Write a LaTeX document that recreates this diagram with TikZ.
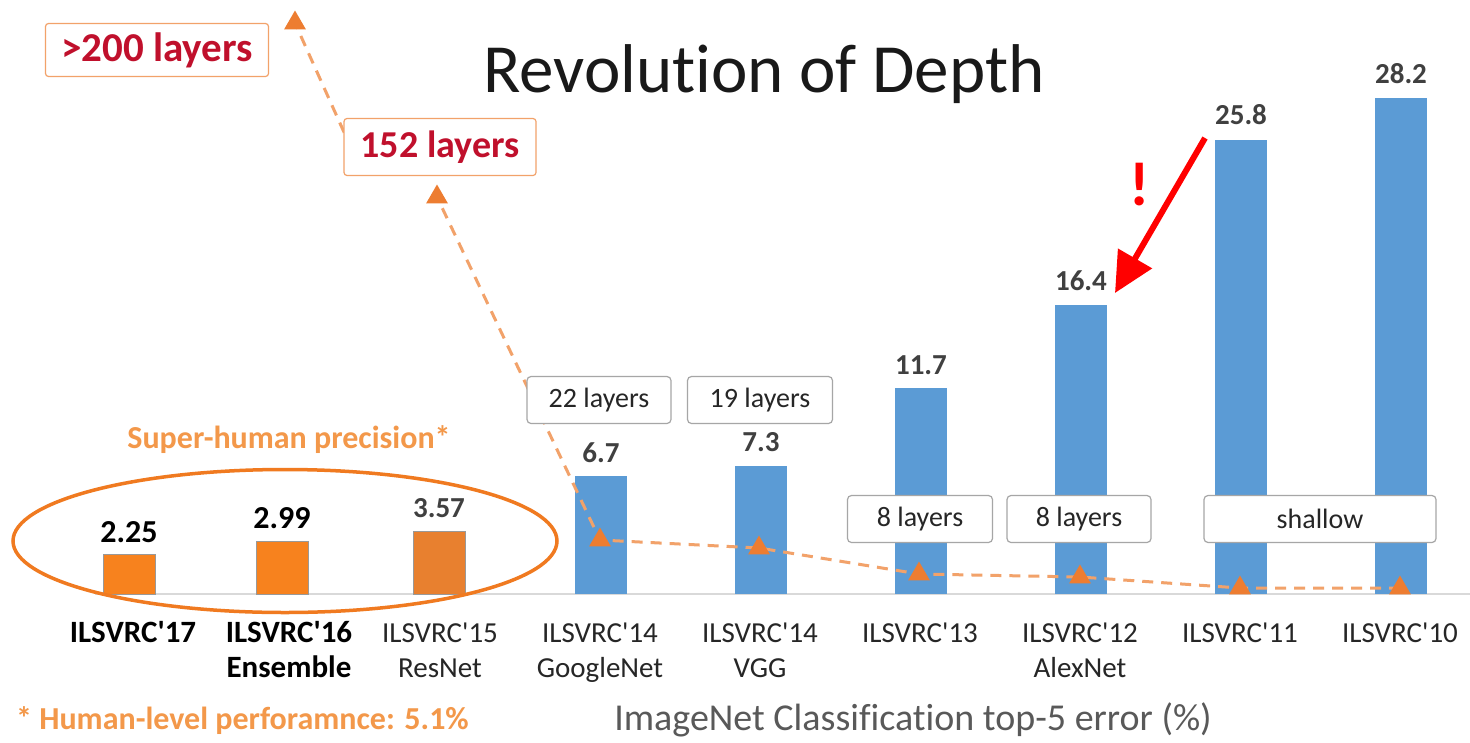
\documentclass[tikz,border=0pt]{standalone}
\usepackage{fontspec}
\setmainfont{Carlito}[Ligatures={NoCommon}]
\usetikzlibrary{shapes.geometric,arrows.meta}

\definecolor{barblue}{HTML}{5B9BD5}
\definecolor{barorange}{HTML}{F7821E}
\definecolor{barorange2}{HTML}{E8802F}
\definecolor{markorange}{HTML}{ED7D31}
\definecolor{dashorange}{HTML}{F2A26A}
\definecolor{ringorange}{HTML}{F07A20}
\definecolor{noteorange}{HTML}{F3984A}
\definecolor{deepred}{HTML}{C0102C}
\definecolor{valgray}{HTML}{404040}
\definecolor{txtgray}{HTML}{262626}
\definecolor{subgray}{HTML}{595959}
\definecolor{boxgray}{HTML}{A6A6A6}
\definecolor{axisgray}{HTML}{D9D9D9}

% font size and line spacing in one go
\newcommand{\fsz}[2]{\fontsize{#1}{#2}\selectfont}
% straight apostrophe for the year labels
\newcommand{\ap}{\textquotesingle}

\begin{document}
\begin{tikzpicture}[x=1pt,y=-1pt,
  bluebar/.style={fill=barblue,inner sep=0,outer sep=0,minimum width=52pt,anchor=south},
  orangebar/.style={fill=barorange,draw=gray!80,line width=1pt,inner sep=0,outer sep=0,minimum width=52pt,anchor=south},
  val/.style={font=\fsz{29}{35}\bfseries,text=valgray,anchor=base,inner sep=0},
  valblack/.style={font=\fsz{32}{38}\bfseries,text=black,anchor=base,inner sep=0},
  axl/.style={font=\fsz{29}{35},text=txtgray,align=center,anchor=base,inner sep=0},
  axlbold/.style={font=\fsz{31}{35}\bfseries,text=black,align=center,anchor=base,inner sep=0},
  lbox/.style={draw=boxgray,line width=1.2pt,fill=white,rounded corners=4pt,
    minimum height=47pt,inner sep=0,font=\fsz{28}{34},text=txtgray},
  redbox/.style={draw=dashorange,line width=1.2pt,fill=white,rounded corners=3pt,
    inner sep=0,text=deepred},
  trimark/.style={regular polygon,regular polygon sides=3,fill=markorange,
    minimum size=25pt,inner sep=0},
  trend/.style={draw=dashorange,line width=3pt,dash pattern=on 11pt off 8pt},
]
\useasboundingbox (0,0) rectangle (1470,742);
\fill[white] (0,0) rectangle (1470,742);

% title
\node[font=\fsz{69}{80},text=black!90,anchor=base,inner sep=0] (title) at (764,92) {Revolution of Depth};

% baseline of the chart
\draw[axisgray,line width=2pt] (95,594) -- (1470,594);

% bars
\node[orangebar,minimum height=39.6pt] (b17) at (129,594) {};
\node[orangebar,minimum height=52.6pt] (b16) at (282,594) {};
\node[orangebar,fill=barorange2,minimum height=62.8pt] (b15) at (439,594) {};
\node[bluebar,minimum height=117.9pt] (b14g) at (601,594) {};
\node[bluebar,minimum height=128.5pt] (b14v) at (761,594) {};
\node[bluebar,minimum height=205.9pt] (b13) at (921,594) {};
\node[bluebar,minimum height=288.6pt] (b12) at (1081,594) {};
\node[bluebar,minimum height=454.1pt] (b11) at (1241,594) {};
\node[bluebar,minimum height=496.3pt] (b10) at (1401,594) {};

% bar values
\node[valblack] (v17) at ([yshift=12pt]b17.north) {2.25};
\node[valblack] (v16) at ([yshift=13pt]b16.north) {2.99};
\node[val] (v15) at ([yshift=14pt]b15.north) {3.57};
\node[val] (v14g) at ([yshift=14pt]b14g.north) {6.7};
\node[val] (v14v) at ([yshift=14pt]b14v.north) {7.3};
\node[val] (v13) at ([yshift=14pt]b13.north) {11.7};
\node[val] (v12) at ([yshift=15pt]b12.north) {16.4};
\node[val] (v11) at ([yshift=15pt]b11.north) {25.8};
\node[val] (v10) at ([yshift=14pt]b10.north) {28.2};

% depth trend
\coordinate (p10) at (1400,588);
\coordinate (p11) at (1240,588);
\coordinate (p12) at (1080,577);
\coordinate (p13) at (919,574);
\coordinate (p14v) at (759,548);
\coordinate (p14g) at (600,540);
\coordinate (p152) at (437,197);
\coordinate (p200) at (295,23);
\coordinate (hid) at (352,150);
\draw[trend] (p10) -- (p11) -- (p12) -- (p13) -- (p14v) -- (p14g) -- (p152);
\draw[trend] (hid) -- (p200);
\foreach \p in {p10,p11,p12,p13,p14v,p14g,p152,p200}
  \node[trimark] (m\p) at (\p) {};

% layer counts
\node[lbox,minimum width=144pt] (l14g) at (599,400) {22 layers};
\node[lbox,minimum width=145pt] (l14v) at (760,400) {19 layers};
\node[lbox,minimum width=145pt] (l13) at (920,519) {8 layers};
\node[lbox,minimum width=144pt] (l12) at (1079,519) {8 layers};
\node[lbox,minimum width=232pt] (l11) at (1320,519) {shallow};
\node[redbox,minimum width=192pt,minimum height=57pt,font=\fsz{38}{45}\bfseries] (l152) at (440,147) {152 layers};
\node[redbox,minimum width=223pt,minimum height=53pt,font=\fsz{41}{48}\bfseries] (l200) at (157,50) {>200 layers};

% super-human group
\node[ellipse,draw=ringorange,line width=3.5pt,minimum width=544pt,minimum height=143pt,inner sep=0] (ring) at (285,541) {};
\node[font=\fsz{32}{38}\bfseries,text=noteorange,anchor=base,inner sep=0] (shp) at (289,448) {Super-human precision*};

% year labels
\node[axlbold] (a17) at (133,642) {ILSVRC\ap17};
\node[axlbold] (a16) at (289,677) {ILSVRC\ap16\\Ensemble};
\node[axl] (a15) at (440,677) {ILSVRC\ap15\\ResNet};
\node[axl] (a14g) at (600,677) {ILSVRC\ap14\\GoogleNet};
\node[axl] (a14v) at (760,677) {ILSVRC\ap14\\VGG};
\node[axl] (a13) at (920,642) {ILSVRC\ap13};
\node[axl] (a12) at (1080,677) {ILSVRC\ap12\\AlexNet};
\node[axl] (a11) at (1240,642) {ILSVRC\ap11};
\node[axl] (a10) at (1400,642) {ILSVRC\ap10};

% footnotes
\node[font=\fsz{32}{38}\bfseries,text=noteorange,anchor=base west,inner sep=0] (human) at (16,729) {* Human-level perforamnce: 5.1\%};
\node[font=\fsz{38}{45},text=subgray,anchor=base,inner sep=0] (xlab) at (913,730) {ImageNet Classification top-5 error (\%)};

% emphasis arrow
\coordinate (r0) at (1205,138);
\coordinate (r1) at (1115,293);
\draw[red,line width=6pt,-{Triangle[length=40pt,width=38pt]}] (r0) -- (r1);
\node[font=\fsz{62}{74}\bfseries,text=red,anchor=base,inner sep=0] (bang) at (1140,205) {!};
\end{tikzpicture}
\end{document}
